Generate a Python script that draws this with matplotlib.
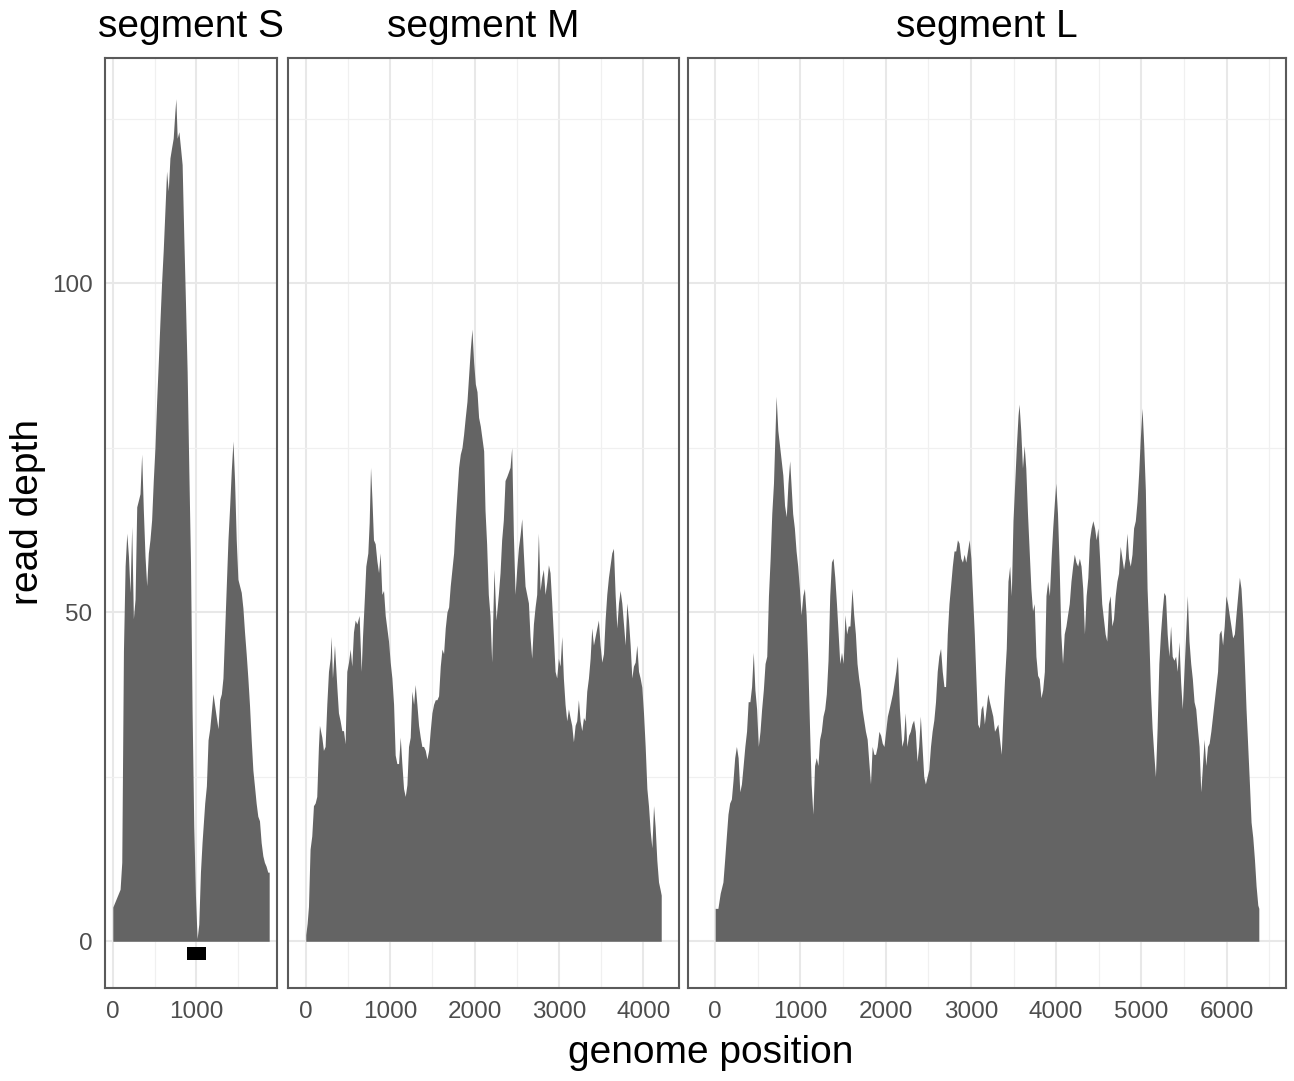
import numpy as np
import matplotlib.pyplot as plt
from matplotlib.patches import Rectangle
from matplotlib.ticker import MultipleLocator

plt.rcParams['font.family'] = ['Liberation Sans', 'DejaVu Sans']

# ---- read depth along each segment ----
s_pos = [0, 87, 107, 127, 147, 167, 187, 206, 226, 246,
         266, 286, 306, 325, 345, 365, 385, 405, 425, 444,
         464, 484, 504, 524, 544, 563, 583, 603, 623, 643,
         663, 683, 702, 722, 742, 754, 770, 790, 810, 829,
         849, 869, 889, 909, 929, 948, 968, 988, 1008, 1028,
         1048, 1067, 1099, 1119, 1139, 1159, 1179, 1198, 1218, 1238,
         1258, 1278, 1298, 1317, 1337, 1357, 1377, 1397, 1417, 1437,
         1456, 1476, 1496, 1516, 1536, 1556, 1575, 1595, 1615, 1635,
         1655, 1675, 1694, 1714, 1734, 1754, 1774, 1794, 1813, 1833,
         1853, 1870]
s_depth = [5.2, 7.9, 12, 44, 57, 62, 58.5, 53, 63, 49,
           52, 66, 67, 68, 74, 65.5, 58.5, 54, 59, 61,
           64, 70, 75, 82, 88, 94, 100, 105, 111, 117,
           114, 119, 120.5, 122, 126, 128, 122, 123, 120.5, 118,
           107, 97, 86.5, 71.6, 57.6, 35, 17.5, 7, 0.4, 2.6,
           10.5, 15, 21, 23.6, 30.6, 32.3, 35, 37.6, 35.8, 34,
           32.3, 36.7, 37.6, 40, 47, 54, 61, 66, 71.6, 76,
           70, 61, 55, 54, 53, 50.6, 47, 43.7, 40, 35.8,
           30.6, 26, 23.6, 21, 19, 18.3, 15, 13, 12, 11.4,
           10.5, 10.5]

m_pos = [0, 16, 32, 51, 71, 91, 111, 130, 150, 162,
         190, 209, 229, 249, 269, 289, 300, 316, 340, 368,
         387, 407, 427, 447, 466, 486, 506, 526, 545, 565,
         585, 605, 632, 656, 672, 696, 711, 735, 751, 767,
         783, 802, 822, 842, 862, 881, 901, 921, 941, 960,
         980, 1000, 1020, 1040, 1059, 1079, 1099, 1119, 1138, 1158,
         1178, 1198, 1217, 1237, 1257, 1277, 1296, 1316, 1336, 1356,
         1375, 1395, 1415, 1435, 1455, 1474, 1494, 1514, 1534, 1553,
         1573, 1593, 1613, 1632, 1652, 1672, 1692, 1711, 1731, 1751,
         1771, 1790, 1810, 1830, 1850, 1869, 1889, 1909, 1929, 1949,
         1968, 1988, 2008, 2028, 2047, 2067, 2087, 2107,
         2123, 2142, 2162, 2182, 2202, 2229, 2253, 2281, 2301, 2320,
         2340, 2360, 2380, 2400, 2419, 2439, 2459, 2479, 2498, 2518,
         2538, 2558, 2577, 2597, 2617, 2637, 2656, 2676, 2696, 2716,
         2735, 2755, 2775, 2795, 2814, 2834, 2854, 2874, 2893, 2913,
         2933, 2953, 2972, 2992, 3012, 3032, 3051, 3071, 3091, 3111,
         3130, 3150, 3170, 3190, 3209, 3229, 3249, 3269, 3289, 3308,
         3328, 3348, 3368, 3387, 3407, 3427, 3447, 3466, 3486, 3506,
         3526, 3545, 3565, 3585, 3605, 3624, 3644, 3664, 3684, 3704,
         3723, 3743, 3763, 3783, 3802, 3822, 3842, 3862, 3881, 3901,
         3921, 3941, 3960, 3980, 4000, 4020, 4040, 4059, 4079, 4099,
         4119, 4138, 4158, 4178, 4198, 4210]
m_depth = [1.0, 2.7, 5.3, 14, 16, 20.6, 21, 22, 29.6, 32.8,
           31, 29, 29.6, 36, 41, 43, 46.3, 40, 45, 38.6,
           34.7, 33.5, 32, 32, 30, 41, 42.4, 44.4, 41.8, 47,
           48.8, 48.2, 49.5, 41, 46.3, 52.7, 57, 59, 63.6, 72,
           67.4, 61, 60.4, 57.8, 56, 59, 52.7, 53.3, 49.5, 47.6,
           45.6, 42.4, 40, 36, 28.3, 27, 27, 31, 27, 23.2,
           22, 23.8, 29.6, 31, 38, 36, 39, 36, 32.8, 31,
           29.6, 29.6, 29, 27.7, 29, 32, 34.7, 36, 36.7, 36.7,
           37.3, 41.8, 44.4, 43.7, 47.6, 50, 50.8, 54, 56.5, 59,
           64, 68, 72, 74, 75, 77, 79.6, 82, 86, 90,
           93, 88, 84.7, 83.5, 79.6, 78.3, 76.4, 74.5,
           65.5, 60.4, 52.7, 49.5, 42.4, 56.5, 48.8, 52.7, 56, 61,
           64, 70, 70.6, 71.3, 72, 75, 61.7, 52.7, 56.5, 59.7,
           61.7, 64.2, 59, 54, 52.7, 51.4, 46.3, 43, 48.2, 50.8,
           52.7, 62, 53.3, 55.3, 56.5, 52.7, 54.6, 57.2, 56, 51.4,
           46.3, 41, 40, 43, 41.8, 46.3, 40, 36, 33.5, 35.3,
           34, 32.8, 30.3, 32.8, 33.5, 36.7, 33.5, 32, 34, 33.5,
           38, 40, 43, 47.6, 45, 46.3, 47.6, 48.8, 45, 42.4,
           43.7, 48.8, 52.7, 55.3, 57.2, 59, 59.7, 52.7, 47.6, 51.4,
           53.3, 51.4, 48.2, 45, 51.4, 48.8, 45, 40, 41.8, 42.4,
           45, 41, 40, 38.6, 34.7, 29.6, 23.2, 20.6, 16.8, 14.2,
           20.6, 17.4, 12.3, 9, 7.8, 7.0]

l_pos = [0, 32, 59, 91, 111, 130, 150, 170, 190, 209,
         229, 249, 269, 289, 308, 328, 348, 368, 387, 407,
         427, 447, 466, 486, 506, 526, 545, 565, 585, 605,
         625, 645, 664, 684, 704, 715, 735, 755, 775, 794,
         814, 834, 854, 874, 889, 909, 929, 949, 968, 988,
         1008, 1028, 1047, 1067, 1087, 1107, 1126, 1146, 1166, 1186,
         1206, 1225, 1245, 1265, 1285, 1304, 1324, 1344, 1364, 1383,
         1403, 1423, 1443, 1462, 1482, 1502, 1522, 1542, 1561, 1581,
         1605, 1625, 1645, 1664, 1684, 1704, 1723, 1743, 1763, 1783,
         1802, 1822, 1842, 1862, 1881, 1901, 1921, 1941, 1960, 1980,
         2000, 2020, 2040, 2059, 2079, 2099, 2119, 2138,
         2162, 2190, 2210, 2229, 2249, 2269, 2289, 2308, 2328, 2348,
         2368, 2387, 2407, 2427, 2447, 2466, 2486, 2506, 2526, 2545,
         2565, 2585, 2605, 2624, 2644, 2664, 2684, 2703, 2723, 2743,
         2763, 2782, 2802, 2822, 2842, 2861, 2881, 2901, 2921, 2940,
         2960, 2980, 3000, 3020, 3040, 3059, 3079, 3099, 3119, 3138,
         3158, 3178, 3198, 3217, 3237, 3257, 3277, 3296, 3316, 3336,
         3356, 3375, 3395, 3415, 3435, 3455, 3474, 3494, 3514, 3534,
         3553, 3565, 3585, 3605, 3625, 3644, 3664, 3684, 3704, 3723,
         3743, 3763, 3783, 3802, 3822, 3842, 3862, 3881, 3901, 3921,
         3941, 3960, 3980, 3996, 4016, 4036, 4055, 4075, 4095, 4115,
         4134, 4154, 4174, 4194, 4213, 4233, 4253, 4273, 4292, 4312,
         4332, 4352, 4372, 4391, 4411, 4431, 4451, 4470, 4490, 4510,
         4535, 4555, 4575, 4594, 4614, 4634, 4654, 4673, 4693, 4713,
         4732, 4752, 4772, 4791, 4811, 4831, 4850, 4870, 4890, 4909,
         4929, 4949, 4969, 4988, 5008, 5028, 5047, 5067, 5087, 5106,
         5126, 5146, 5165, 5185, 5205, 5224, 5244, 5264, 5283, 5303,
         5323, 5343, 5362, 5382, 5402, 5421, 5441, 5461, 5480, 5500,
         5520, 5539, 5559, 5579, 5598, 5618, 5638, 5657, 5677, 5697,
         5717, 5736, 5756, 5776, 5795, 5815, 5835, 5854, 5874, 5894,
         5913, 5933, 5953, 5972, 5992, 6012, 6031, 6051, 6071, 6091,
         6110, 6130, 6150, 6169, 6189, 6209, 6228, 6248, 6268, 6287,
         6307, 6327, 6346, 6366, 6378]
l_depth = [5, 5, 7.3, 9, 12.4, 15.8, 19.3, 21, 21.6, 24.4,
           27.9, 29.6, 27.9, 22.7, 23.9, 26.7, 29.6, 31.9, 36.4, 36.4,
           38.7, 43.9, 38.2, 35.3, 29.6, 31.9, 35.3, 38.2, 42.2, 43.3,
           52.5, 58.2, 65, 69.6, 78.2, 82.8, 77.6, 75.3, 73, 70.8,
           66.2, 64.5, 69.6, 73, 69.6, 65, 62.8, 59.3, 57, 53.6,
           49.6, 52.5, 53.6, 49.6, 42.2, 32.4, 23.9, 19.3, 26.7, 27.9,
           26.7, 30.7, 31.9, 34.2, 35.3, 37.6, 42.7, 52.5, 57.6, 58.2,
           55.3, 51.3, 46.7, 42.2, 43.9, 42.2, 49.6, 46.7, 47.9, 47.9,
           53.6, 49.6, 46.7, 42.2, 39.9, 38.2, 35.3, 33.6, 31.9, 30.7,
           27.3, 23.9, 29.6, 28.4, 28.4, 29.6, 31.9, 31.3, 30.1, 29.6,
           31.9, 34.2, 35.3, 36.4, 37.6, 39.3, 41, 43.3,
           35.3, 29.6, 30.7, 34.7, 29.6, 31.3, 31.9, 33, 33.6, 31.9,
           27.3, 29.6, 34.2, 29.6, 25, 23.9, 25, 26.1, 29.6, 31.9,
           33.6, 36.4, 41, 43.3, 44.5, 41, 38.7, 38.7, 46.7, 51.3,
           54.2, 57, 59.3, 59.3, 61, 60.5, 58.2, 57.6, 58.8, 57.6,
           59.3, 61, 58.2, 52.5, 46.7, 39.9, 33, 32.4, 35.3, 35.9,
           33, 35.3, 37.6, 36.4, 35.3, 34.2, 31.9, 32.4, 33, 30.7,
           28.4, 34.2, 39.9, 44.5, 54.7, 57, 52.5, 63.9, 69.6, 75.3,
           79.9, 81.6, 77.6, 71.9, 75.3, 71.9, 65, 59.3, 53.6, 50.2,
           51.3, 43.3, 40.4, 39.9, 37, 38.2, 41, 52.5, 54.7, 52.5,
           58.2, 62.8, 66.8, 69.6, 65, 57, 46.7, 42.2, 46.7, 47.9,
           49.6, 51.3, 54.7, 57, 58.8, 57.6, 57, 58.2, 57, 53.6,
           46.7, 52.5, 55.3, 61, 62.8, 63.9, 62.8, 61, 62.8, 58.2,
           51.3, 49, 46.7, 45.6, 51.3, 52.5, 47.9, 49, 52.5, 54.7,
           55.9, 60, 58.2, 56.5, 58.2, 62, 58.2, 57, 58.8, 62.8,
           63.9, 66.8, 71.3, 76.5, 81, 75.3, 68.5, 53.6, 46.7, 38.2,
           32.4, 28.4, 25, 32.4, 42.2, 46.7, 50.2, 53, 52.5, 46.7,
           43.3, 47.9, 43.3, 42.7, 43.3, 41, 45.5, 39.3, 35.3, 41,
           46.7, 52.5, 45.6, 42.2, 39.9, 36.4, 35.3, 32.4, 29.6, 22.7,
           26.7, 30.7, 26.7, 29.6, 30.1, 31.9, 34.2, 36.4, 38.7, 41,
           46.7, 47.3, 45, 47.9, 52.5, 51.3, 49.6, 47.9, 46.1, 46.7,
           49.6, 52.5, 55.3, 53.6, 49, 42.2, 35.3, 29.6, 23.9, 18.1,
           15.8, 12.4, 8.4, 5.5, 5.0]

segments = ['segment S', 'segment M', 'segment L']
positions = [s_pos, m_pos, l_pos]
depths = [s_depth, m_depth, l_depth]

# black box under segment S (start, end, bottom, top)
box_start, box_end = 890, 1120
box_lo, box_hi = -2.8, -0.9

# -------------------------------------------------
W, H = 1294, 1081
fig = plt.figure(figsize=(W / 100, H / 100), dpi=100)

# panel edges in pixels (left, right); widths follow each segment length
panel_px = [(105, 277), (288, 679), (688, 1286)]
top_px, bottom_px = 58, 988

axes = []
for i in range(3):
    last = positions[i][-1]
    lo, hi = -0.05 * last, 1.05 * last
    l_px, r_px = panel_px[i]
    ax = fig.add_axes([l_px / W, (H - bottom_px) / H, (r_px - l_px) / W, (bottom_px - top_px) / H])
    axes.append(ax)

    x = np.array(positions[i])
    y = np.array(depths[i])
    ax.fill_between(x, y, 0, color='#646464', linewidth=0)

    ax.set_xlim(lo, hi)
    ax.set_ylim(-7.1, 134.2)
    ax.xaxis.set_major_locator(MultipleLocator(1000))
    ax.xaxis.set_minor_locator(MultipleLocator(500))
    ax.yaxis.set_major_locator(MultipleLocator(50))
    ax.yaxis.set_minor_locator(MultipleLocator(25))
    ax.grid(which='major', color='#e8e8e8', linewidth=1.5)
    ax.grid(which='minor', color='#f0f0f0', linewidth=0.9)
    ax.set_axisbelow(True)
    ax.tick_params(which='both', length=0, labelsize=17.5, labelcolor='#4d4d4d')
    ax.tick_params(axis='x', pad=9)
    ax.tick_params(axis='y', pad=9)
    for sp in ax.spines.values():
        sp.set_color('#5a5a5a')
        sp.set_linewidth(1.5)
    ax.set_title(segments[i], fontsize=28, pad=15)
    if i > 0:
        ax.set_yticklabels([])

axes[0].add_patch(Rectangle((box_start, box_lo), box_end - box_start, box_hi - box_lo,
                            color='black', linewidth=0))

fig.text(711 / W, 1 - 1053 / H, 'genome position', fontsize=28, ha='center', va='center')
fig.text(28 / W, 1 - 512 / H, 'read depth', fontsize=28, ha='center', va='center', rotation=90)

fig.savefig('out.png', dpi=100)
